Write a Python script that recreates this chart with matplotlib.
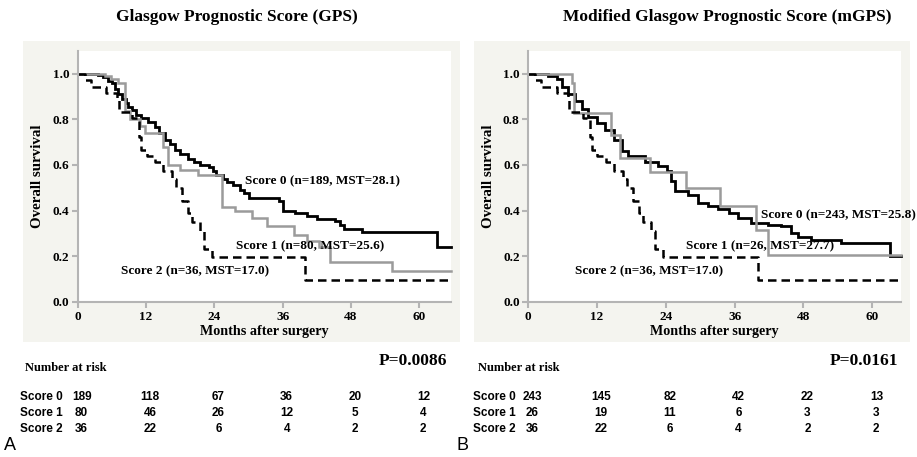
import matplotlib
matplotlib.use('Agg')
import matplotlib.pyplot as plt
from matplotlib.patches import Rectangle
from matplotlib.transforms import blended_transform_factory

# figure size in pixels
W, H = 917, 457

# Kaplan-Meier curves (time in months, survival after each drop)
gps0_t = [0, 3.6, 4.5, 5.3, 6.0, 6.6, 7.1, 7.8, 8.4, 8.9, 9.5, 10.2, 11.2, 12.3, 13.6, 14.3,
          15.3, 16.2, 17.1, 18.0, 19.4, 20.5, 21.5, 23.0, 23.8, 24.2, 25.5, 26.2, 27.3, 28.5,
          29.2, 30.0, 35.3, 36.1, 38.2, 40.2, 42.0, 45.2, 46.0, 46.7, 49.9, 63.1]
gps0_s = [1.0, 0.995, 0.985, 0.97, 0.96, 0.935, 0.91, 0.89, 0.87, 0.855, 0.84, 0.82, 0.805, 0.79,
          0.765, 0.74, 0.71, 0.69, 0.665, 0.65, 0.625, 0.615, 0.60, 0.59, 0.575, 0.555, 0.54,
          0.525, 0.51, 0.49, 0.475, 0.455, 0.44, 0.40, 0.39, 0.375, 0.365, 0.355, 0.335, 0.32,
          0.305, 0.24]

gps1_t = [0, 4.8, 5.8, 7.1, 8.3, 9.2, 10.9, 11.8, 15.0, 15.9, 18.0, 21.2, 25.3, 27.6, 30.6,
          33.2, 37.9, 40.2, 42.3, 44.3, 55.2]
gps1_s = [1.0, 0.99, 0.975, 0.96, 0.836, 0.80, 0.77, 0.74, 0.68, 0.60, 0.58, 0.557, 0.415,
          0.396, 0.367, 0.33, 0.293, 0.265, 0.24, 0.176, 0.135]

gps2_t = [0, 1.3, 2.3, 5.0, 6.9, 7.2, 9.6, 10.8, 11.1, 12.1, 13.6, 15.0, 16.5, 17.2, 18.3,
          19.4, 20.0, 21.5, 22.2, 23.6, 40.0]
gps2_s = [1.0, 0.972, 0.944, 0.917, 0.889, 0.833, 0.806, 0.722, 0.667, 0.639, 0.611, 0.572,
          0.540, 0.50, 0.44, 0.389, 0.35, 0.31, 0.23, 0.194, 0.097]

mgps0_t = [0, 3.5, 5.0, 5.9, 7.0, 8.2, 9.4, 10.5, 12.0, 13.4, 14.9, 16.3, 17.5, 20.4, 22.7,
           24.2, 25.0, 25.6, 27.9, 29.6, 31.4, 33.1, 35.1, 36.6, 38.9, 41.8, 44.1, 45.9,
           47.1, 49.4, 54.6, 63.0]
mgps0_s = [1.0, 0.99, 0.975, 0.94, 0.91, 0.88, 0.845, 0.81, 0.785, 0.755, 0.71, 0.66, 0.64,
           0.615, 0.595, 0.572, 0.53, 0.485, 0.47, 0.435, 0.42, 0.405, 0.39, 0.367, 0.345,
           0.337, 0.33, 0.30, 0.286, 0.271, 0.257, 0.20]

mgps1_t = [0, 7.6, 8.1, 14.5, 16.0, 21.2, 27.6, 33.4, 39.8, 41.9]
mgps1_s = [1.0, 0.96, 0.83, 0.73, 0.63, 0.567, 0.50, 0.42, 0.315, 0.207]

# Score 2 is the same group in both panels
mgps2_t = gps2_t
mgps2_s = gps2_s

risk_times = [0, 12, 24, 36, 48, 60]
gps_risk = [[189, 118, 67, 36, 20, 12], [80, 46, 26, 12, 5, 4], [36, 22, 6, 4, 2, 2]]
mgps_risk = [[243, 145, 82, 42, 22, 13], [26, 19, 11, 6, 3, 3], [36, 22, 6, 4, 2, 2]]
row_names = ['Score 0', 'Score 1', 'Score 2']

gps_labels = ['Score 0 (n=189, MST=28.1)', 'Score 1 (n=80, MST=25.6)', 'Score 2 (n=36, MST=17.0)']
mgps_labels = ['Score 0 (n=243, MST=25.8)', 'Score 1 (n=26, MST=27.7)', 'Score 2 (n=36, MST=17.0)']

SERIF = 'Liberation Serif'
SANS = 'Liberation Sans'
GREY_LINE = '#9b9b9b'
SPINE = '#b4b4b4'
PANEL = '#f4f4ef'

fig = plt.figure(figsize=(W / 100, H / 100), dpi=100)


def px_axes(x0, y0, x1, y1):
    # pixel box (from top-left) -> figure fraction
    return [x0 / W, 1 - y1 / H, (x1 - x0) / W, (y1 - y0) / H]


def draw_panel(box, ax_box, xmax, curves, labels, label_pos, title, title_x, risk, pval, pan_x, letter):
    fig.patches.append(Rectangle((box[0] / W, 1 - box[3] / H), (box[2] - box[0]) / W,
                                 (box[3] - box[1]) / H, transform=fig.transFigure,
                                 facecolor=PANEL, edgecolor='none', zorder=-5))
    ax = fig.add_axes(px_axes(*ax_box))
    ax.set_zorder(2)
    ax.set_facecolor('white')

    styles = [dict(color='black', lw=2.0, ls='-'),
              dict(color=GREY_LINE, lw=1.8, ls='-'),
              dict(color='black', lw=1.8, ls=(0, (3.4, 2.0)))]
    for (t, s), st in zip(curves, styles):
        ax.plot(list(t) + [xmax], list(s) + [s[-1]], drawstyle='steps-post', solid_joinstyle='miter',
                clip_on=False, **st)

    for lab, (x, y) in zip(labels, label_pos):
        ax.text(x, y, lab, fontfamily=SERIF, fontweight='bold', fontsize=9.5, va='center', ha='left')

    ax.set_xlim(0, xmax)
    ax.set_ylim(0, 1.1)
    ax.set_xticks(risk_times)
    ax.set_yticks([0, 0.2, 0.4, 0.6, 0.8, 1.0])
    ax.set_yticklabels(['0.0', '0.2', '0.4', '0.6', '0.8', '1.0'])
    for sp in ['top', 'right']:
        ax.spines[sp].set_visible(False)
    for sp in ['left', 'bottom']:
        ax.spines[sp].set_color(SPINE)
        ax.spines[sp].set_linewidth(1.5)
    ax.tick_params(color=SPINE, width=1.5, length=4, pad=2)
    ax.tick_params(axis='x', pad=3)
    for lbl in ax.get_xticklabels() + ax.get_yticklabels():
        lbl.set_fontfamily(SERIF)
        lbl.set_fontweight('bold')
        lbl.set_fontsize(9.5)
    ax.set_xlabel('Months after surgery', fontfamily=SERIF, fontweight='bold', fontsize=10.2, labelpad=1)
    ax.set_ylabel('Overall survival', fontfamily=SERIF, fontweight='bold', fontsize=10.8, labelpad=6)

    # title and number-at-risk table
    fig.text(title_x / W, 1 - 17 / H, title, fontfamily=SERIF, fontweight='bold', fontsize=12.5,
             ha='center', va='center')
    fig.text((pan_x + 5) / W, 1 - 368 / H, 'Number at risk', fontfamily=SERIF, fontweight='bold',
             fontsize=9, ha='left', va='center')
    fig.text((ax_box[2] - 3) / W, 1 - 361 / H, pval, fontfamily=SERIF, fontweight='bold',
             fontsize=12.5, ha='right', va='center')
    tr = blended_transform_factory(ax.transData, fig.transFigure)
    for i, (name, row) in enumerate(zip(row_names, risk)):
        y = 1 - (397 + 16 * i) / H
        fig.text(pan_x / W, y, name, fontfamily=SANS, fontweight='bold', fontsize=8.5,
                 ha='left', va='center')
        for t, n in zip(risk_times, row):
            ax.text(t + 0.7, y, str(n), transform=tr, fontfamily=SANS, fontweight='bold',
                    fontsize=8.5, ha='center', va='center', clip_on=False)
    fig.text((pan_x - 16) / W, 1 - 446 / H, letter, fontfamily=SANS, fontsize=13,
             ha='left', va='center')
    return ax


draw_panel((23, 41, 460, 342), (77.7, 51, 450.7, 301.7), 65.5,
           [(gps0_t, gps0_s), (gps1_t, gps1_s), (gps2_t, gps2_s)],
           gps_labels, [(29.4, 0.528), (27.8, 0.242), (7.6, 0.132)],
           'Glasgow Prognostic Score (GPS)', 237, gps_risk, 'P=0.0086', 20, 'A')

draw_panel((474, 41, 910, 342), (528, 51, 901, 301.7), 65.0,
           [(mgps0_t, mgps0_s), (mgps1_t, mgps1_s), (mgps2_t, mgps2_s)],
           mgps_labels, [(40.6, 0.381), (27.5, 0.242), (8.2, 0.135)],
           'Modified Glasgow Prognostic Score (mGPS)', 727, mgps_risk, 'P=0.0161', 473, 'B')

fig.savefig('out.png', dpi=100)
